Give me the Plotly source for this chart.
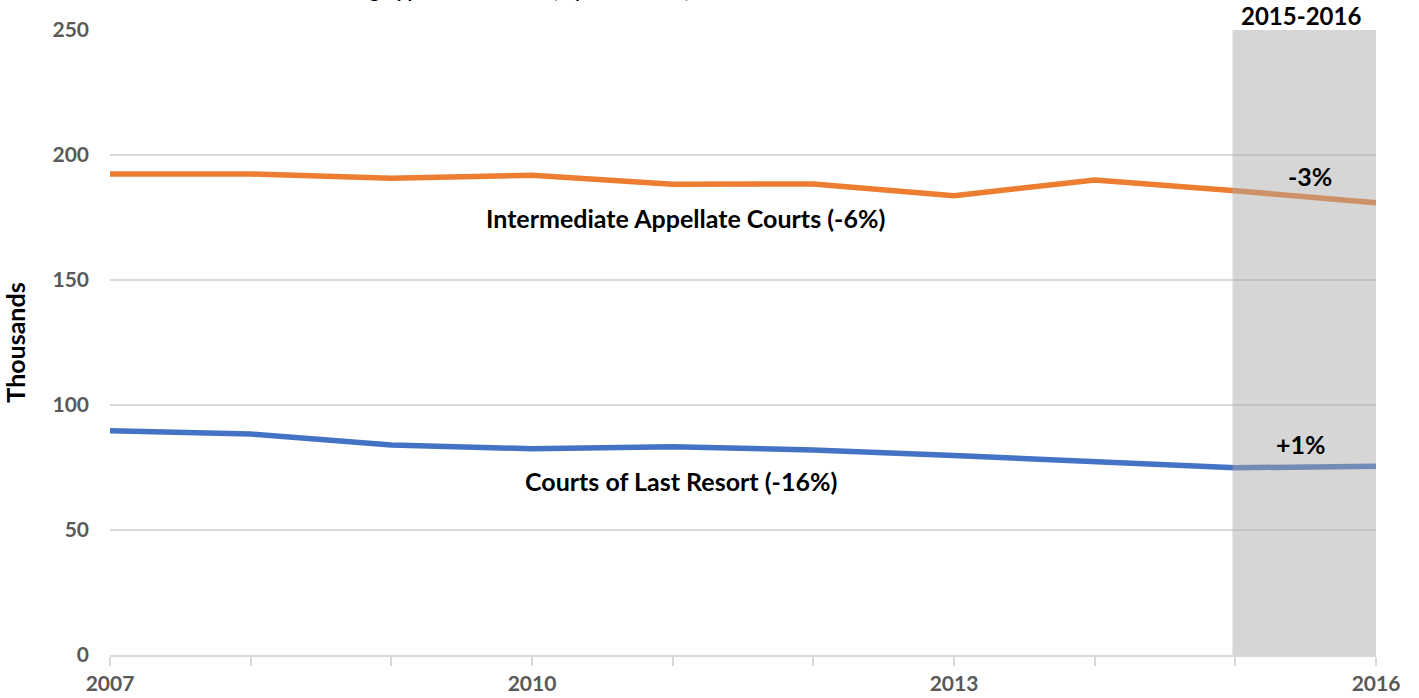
import plotly.graph_objects as go

years = [2007, 2008, 2009, 2010, 2011, 2012, 2013, 2014, 2015, 2016]
intermediate = [192.4, 192.4, 190.7, 191.9, 188.3, 188.4, 183.7, 190.0, 185.7, 180.9]
last_resort = [89.7, 88.4, 84.0, 82.5, 83.3, 82.0, 79.8, 77.3, 74.9, 75.5]
xtick_vals = years
xtick_text = ["2007", "", "", "2010", "", "", "2013", "", "", "2016"]
ytick_vals = [0, 50, 100, 150, 200, 250]

FONT = "Lato"
fig = go.Figure()
fig.add_trace(go.Scatter(x=years, y=intermediate, mode="lines",
                         line=dict(color="#ED7D31", width=5.5), hoverinfo="skip"))
fig.add_trace(go.Scatter(x=years, y=last_resort, mode="lines",
                         line=dict(color="#4472C4", width=5.5), hoverinfo="skip"))

fig.add_shape(type="rect", xref="x", yref="y", x0=2014.98, x1=2016, y0=0, y1=250,
              fillcolor="rgba(168,168,168,0.47)", line=dict(width=0), layer="above")

ann_font = dict(family=FONT, size=25, color="#000000")
fig.add_annotation(x=2011.09, y=174.8, xref="x", yref="y", text="<b>Intermediate Appellate Courts (-6%)</b>",
                   showarrow=False, font=ann_font)
fig.add_annotation(x=2011.06, y=69.6, xref="x", yref="y", text="<b>Courts of Last Resort (-16%)</b>",
                   showarrow=False, font=ann_font)
fig.add_annotation(x=2015.53, y=191.6, xref="x", yref="y", text="<b>-3%</b>",
                   showarrow=False, font=ann_font)
fig.add_annotation(x=2015.47, y=84.4, xref="x", yref="y", text="<b>+1%</b>",
                   showarrow=False, font=ann_font)
fig.add_annotation(x=2015.47, y=1, xref="x", yref="paper", yanchor="middle", yshift=15,
                   text="<b>2015-2016</b>", showarrow=False,
                   font=dict(family=FONT, size=24, color="#000000"))
fig.add_annotation(x=0.150, y=1, xref="paper", yref="paper", xanchor="left", yanchor="bottom",
                   yshift=26, text="<b>Incoming Appellate Caseloads, by Court Level, 2007-2016</b>",
                   showarrow=False, font=dict(family=FONT, size=19, color="#000000"))

fig.update_layout(
    width=1419, height=698,
    margin=dict(l=110, r=43, t=30, b=43, autoexpand=False),
    paper_bgcolor="white", plot_bgcolor="white",
    showlegend=False,
    font=dict(family=FONT),
    xaxis=dict(range=[2007, 2016], tickmode="array", tickvals=xtick_vals, ticktext=xtick_text,
               showgrid=False, showline=True, linecolor="#D9D9D9", linewidth=2,
               ticks="outside", ticklen=9, tickcolor="#D9D9D9", tickwidth=1.5,
               tickfont=dict(family=FONT, size=21, color="#595959", weight="bold"),
               zeroline=False, fixedrange=True, automargin=False),
    yaxis=dict(range=[0, 250], tickmode="array", tickvals=ytick_vals,
               showgrid=True, gridcolor="#D9D9D9", gridwidth=1.5,
               zeroline=False, showline=False, ticks="", ticklabelstandoff=20,
               tickfont=dict(family=FONT, size=21, color="#595959", weight="bold"),
               title=dict(text="<b>Thousands</b>", standoff=22,
                          font=dict(family=FONT, size=25, color="#000000")),
               fixedrange=True, automargin=False),
)

fig.write_html("out.html", config={"displayModeBar": False},
               post_script="document.body.style.margin='0';")
